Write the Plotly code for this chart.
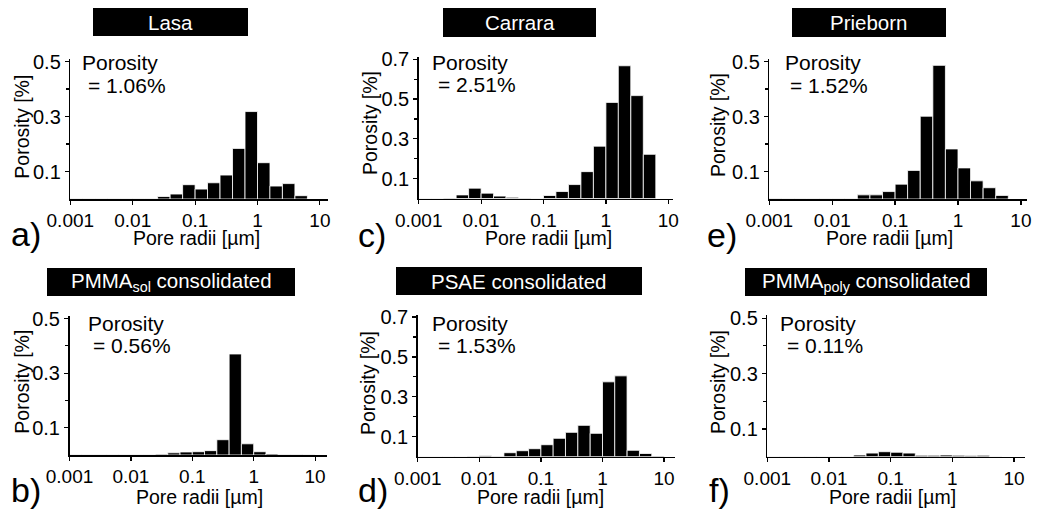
import numpy as np
import plotly.graph_objects as go

# ---------------- data ----------------
# lower edges of the pore-radius bins [µm] (5 bins per decade)
bin_lower_radii = [0.001, 0.00158, 0.00251, 0.00398, 0.00631,
                   0.01, 0.0158, 0.0251, 0.0398, 0.0631,
                   0.1, 0.158, 0.251, 0.398, 0.631,
                   1.0, 1.58, 2.51, 3.98, 6.31]

lasa = [0.001, 0.001, 0.001, 0.001, 0.001, 0.001, 0.001, 0.009, 0.018, 0.052,
        0.036, 0.059, 0.087, 0.184, 0.318, 0.132, 0.047, 0.056, 0.012, 0.0]
carrara = [0.001, 0.001, 0.003, 0.018, 0.052, 0.027, 0.012, 0.006, 0.002, 0.001,
           0.015, 0.035, 0.070, 0.135, 0.263, 0.483, 0.667, 0.517, 0.222, 0.0]
prieborn = [0.002, 0.001, 0.001, 0.001, 0.001, 0.001, 0.001, 0.015, 0.015, 0.027,
            0.054, 0.104, 0.301, 0.486, 0.182, 0.113, 0.066, 0.041, 0.013, 0.0]
pmma_sol = [0.001, 0.001, 0.001, 0.001, 0.001, 0.001, 0.001, 0.003, 0.008, 0.011,
            0.012, 0.016, 0.056, 0.370, 0.041, 0.012, 0.004, 0.002, 0.002, 0.001]
psae = [0.001, 0.001, 0.001, 0.001, 0.002, 0.005, 0.002, 0.020, 0.030, 0.040,
        0.060, 0.092, 0.122, 0.157, 0.117, 0.375, 0.405, 0.032, 0.016, 0.003]
pmma_poly = [0.001, 0.001, 0.001, 0.001, 0.001, 0.001, 0.001, 0.006, 0.013, 0.018,
             0.016, 0.013, 0.005, 0.005, 0.006, 0.005, 0.004, 0.005, 0.001, 0.0]

panel_titles = ["Lasa", "Carrara", "Prieborn",
                "PMMA<sub>sol</sub> consolidated", "PSAE consolidated",
                "PMMA<sub>poly</sub> consolidated"]
porosity_totals = ["1.06%", "2.51%", "1.52%", "0.56%", "1.53%", "0.11%"]
panel_letters = ["a)", "c)", "e)", "b)", "d)", "f)"]
series = [lasa, carrara, prieborn, pmma_sol, psae, pmma_poly]

x_tick_vals = [0.001, 0.01, 0.1, 1, 10]
x_tick_text = ["0.001", "0.01", "0.1", "1", "10"]
y_ticks_05 = [0.1, 0.3, 0.5]
y_minor_05 = [0.2, 0.4]
y_ticks_07 = [0.1, 0.3, 0.5, 0.7]
y_minor_07 = [0.2, 0.4, 0.6]

# ---------------- layout geometry (pixels) ----------------
W, H = 1037, 515
FONT = "Liberation Sans, Arial, Helvetica, sans-serif"

geom = [
    dict(x0=70.3, dec=62.4, xend=328, y0=199, yunit=275, ytop=0.51, big=False,
         box=(93, 8, 248, 36), xt=(196, 238), yt=(21.7, 127), let=(9, 234),
         p1=(80, 63), p2=(86, 85)),
    dict(x0=418.7, dec=62.4, xend=673, y0=198.5, yunit=199, ytop=0.71, big=True,
         box=(443, 8, 596, 37), xt=(548, 238), yt=(370, 123), let=(356, 235),
         p1=(430, 63), p2=(435.7, 84)),
    dict(x0=769.3, dec=62.9, xend=1027, y0=199, yunit=275, ytop=0.51, big=False,
         box=(792, 8, 946, 37), xt=(889, 238), yt=(718, 125), let=(705, 235),
         p1=(782.7, 63), p2=(788.3, 85)),
    dict(x0=69.5, dec=61.4, xend=327, y0=455, yunit=273, ytop=0.51, big=False,
         box=(47, 268, 295, 296), xt=(199, 497), yt=(21.7, 382), let=(9, 490),
         p1=(86, 323), p2=(90.7, 345)),
    dict(x0=417.7, dec=61.6, xend=675, y0=456.7, yunit=199.6, ytop=0.71, big=True,
         box=(396, 267, 642, 295), xt=(540, 497), yt=(368, 383), let=(356, 490),
         p1=(430, 323), p2=(435.7, 345)),
    dict(x0=767.3, dec=61.7, xend=1025, y0=456.7, yunit=277, ytop=0.51, big=False,
         box=(745, 268, 987, 296), xt=(892, 497), yt=(718, 382), let=(707, 490),
         p1=(778, 323), p2=(785, 345)),
]


def px(x):
    return x / W


def py(y):
    return 1 - y / H


fig = go.Figure()
layout = dict(template="none", width=W, height=H,
              margin=dict(l=0, r=0, t=0, b=0, pad=0, autoexpand=False),
              paper_bgcolor="white", plot_bgcolor="white", showlegend=False,
              font=dict(family=FONT, color="black"), bargap=0)
annotations = []
shapes = []

log_lower = np.log10(np.array(bin_lower_radii))

for i, (g, vals) in enumerate(zip(geom, series)):
    n = i + 1
    xa = "x" if n == 1 else f"x{n}"
    ya = "y" if n == 1 else f"y{n}"
    fig.add_trace(go.Bar(
        x=log_lower, y=vals, width=0.2, offset=0,
        marker=dict(color="black", line=dict(color="white", width=0.8)),
        xaxis=xa, yaxis=ya, hoverinfo="skip"))

    xr = -3 + (g["xend"] - g["x0"]) / g["dec"]
    ytop_px = g["y0"] - g["ytop"] * g["yunit"]
    layout[f"xaxis{n}"] = dict(
        domain=[px(g["x0"]), px(g["xend"])], range=[-3, xr], anchor=ya,
        automargin=False,
        tickvals=list(np.log10(x_tick_vals)), ticktext=x_tick_text,
        ticks="outside", ticklen=4, tickwidth=1.2, tickcolor="black",
        showline=True, linecolor="black", linewidth=1.5,
        showgrid=False, zeroline=False, fixedrange=True,
        tickfont=dict(size=19, family=FONT, color="black"))
    layout[f"yaxis{n}"] = dict(
        domain=[py(g["y0"]), py(ytop_px)], range=[0, g["ytop"]], anchor=xa,
        automargin=False,
        tickvals=y_ticks_07 if g["big"] else y_ticks_05,
        ticktext=[f"{v:.1f}" for v in (y_ticks_07 if g["big"] else y_ticks_05)],
        ticks="outside", ticklen=4, tickwidth=1.2, tickcolor="black",
        minor=dict(tickvals=y_minor_07 if g["big"] else y_minor_05,
                   ticks="outside", ticklen=3, tickwidth=1.2, tickcolor="black",
                   showgrid=False),
        showline=True, linecolor="black", linewidth=1.5,
        showgrid=False, zeroline=False, fixedrange=True,
        tickfont=dict(size=20, family=FONT, color="black"))

    bx0, by0, bx1, by1 = g["box"]
    shapes.append(dict(type="rect", xref="paper", yref="paper",
                       x0=px(bx0), x1=px(bx1), y0=py(by1), y1=py(by0),
                       fillcolor="black", line=dict(width=0)))
    annotations.append(dict(text=panel_titles[i], xref="paper", yref="paper",
                            x=px((bx0 + bx1) / 2), y=py((by0 + by1) / 2),
                            xanchor="center", yanchor="middle", showarrow=False,
                            font=dict(size=20.5, color="white", family=FONT)))
    annotations.append(dict(text="Pore radii [µm]", xref="paper", yref="paper",
                            x=px(g["xt"][0]), y=py(g["xt"][1]),
                            xanchor="center", yanchor="middle", showarrow=False,
                            font=dict(size=19.5, color="black", family=FONT)))
    annotations.append(dict(text="Porosity [%]", xref="paper", yref="paper",
                            x=px(g["yt"][0]), y=py(g["yt"][1]), textangle=-90,
                            xanchor="center", yanchor="middle", showarrow=False,
                            font=dict(size=19.5, color="black", family=FONT)))
    annotations.append(dict(text="Porosity", xref="paper", yref="paper",
                            x=px(g["p1"][0]), y=py(g["p1"][1]),
                            xanchor="left", yanchor="middle", showarrow=False,
                            font=dict(size=21, color="black", family=FONT)))
    annotations.append(dict(text="= " + porosity_totals[i], xref="paper", yref="paper",
                            x=px(g["p2"][0]), y=py(g["p2"][1]),
                            xanchor="left", yanchor="middle", showarrow=False,
                            font=dict(size=21, color="black", family=FONT)))
    annotations.append(dict(text=panel_letters[i], xref="paper", yref="paper",
                            x=px(g["let"][0]), y=py(g["let"][1]),
                            xanchor="left", yanchor="middle", showarrow=False,
                            font=dict(size=34, color="black", family=FONT)))

layout["annotations"] = annotations
layout["shapes"] = shapes
fig.update_layout(**layout)
fig.write_html("out.html",
               config={"displayModeBar": False, "staticPlot": True},
               post_script="document.body.style.margin='0px';"
                           "document.body.style.overflow='hidden';")
